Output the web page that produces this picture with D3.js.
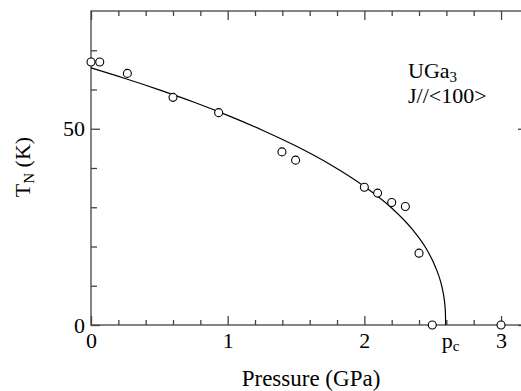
<!DOCTYPE html>
<html>
<head>
<meta charset="utf-8">
<script src="https://cdn.jsdelivr.net/npm/d3@7"></script>
<style>
  body { margin: 0; background: #fff; }
  svg { display: block; }
  .axis path, .axis line { stroke: #444; stroke-width: 1.3; }
  .axis text, .lbl { font-family: "Liberation Serif", "Times New Roman", Times, "DejaVu Serif", serif; font-size: 22px; fill: #000; }
</style>
</head>
<body>
<svg id="chart"></svg>
<script>
// measured points: pressure (GPa) and Neel temperature (K)
var pointP = [0, 0.064, 0.266, 0.60, 0.934, 1.397, 1.497, 2.0, 2.097, 2.20, 2.30, 2.40, 2.497, 3.0];
var pointT = [67.0, 67.0, 64.1, 58.0, 54.1, 44.1, 42.0, 35.1, 33.6, 31.2, 30.2, 18.3, 0, 0];

// solid line
var lineP = [0, 0.25, 0.5, 0.75, 1.0, 1.25, 1.5, 1.75, 2.0, 2.2, 2.35, 2.45, 2.52, 2.56, 2.58, 2.585, 2.59, 2.593, 2.595];
var lineT = [65.5, 62.8, 59.9, 56.8, 53.4, 49.7, 45.6, 40.9, 35.3, 29.8, 24.4, 19.6, 14.8, 10.8, 7.6, 6.4, 4.8, 3.2, 0];

var xMajor = [0, 1, 2, 3],
    yMajor = [0, 50],
    pc = 2.595;

var W = 521, H = 391,
    mLeft = 91, mRight = 527, mTop = 11, mBottom = 325,
    serif = '"Liberation Serif", "Times New Roman", Times, serif';

var svg = d3.select("#chart").attr("width", W).attr("height", H);

var x = d3.scaleLinear().domain([0, 3.19]).range([mLeft, mRight]);
var y = d3.scaleLinear().domain([0, 80]).range([mBottom, mTop]);

var xMinor = d3.range(0, 3.2, 0.2).filter(function (v) { return Math.abs(v - Math.round(v)) > 1e-6; });
var yMinor = d3.range(10, 80, 10).filter(function (v) { return v !== 50; });

// minor + major ticks on all four sides, pointing inward
function addAxis(maker, scale, transform, vals, size, labels, pad) {
    var ax = maker(scale).tickValues(vals).tickSize(size).tickSizeOuter(0).tickPadding(pad || 3);
    ax.tickFormat(labels ? d3.format("d") : "");
    svg.append("g").attr("class", "axis").attr("transform", transform).call(ax)
        .attr("font-family", serif).attr("font-size", 22);
}

addAxis(d3.axisBottom, x, "translate(0," + mBottom + ")", xMinor, -5, false);
addAxis(d3.axisBottom, x, "translate(0," + mBottom + ")", xMajor, -9, true, 7);
addAxis(d3.axisTop, x, "translate(0," + mTop + ")", xMinor, -5, false);
addAxis(d3.axisTop, x, "translate(0," + mTop + ")", xMajor, -9, false);
addAxis(d3.axisLeft, y, "translate(" + mLeft + ",0)", yMinor, -6, false);
addAxis(d3.axisLeft, y, "translate(" + mLeft + ",0)", yMajor, -9, true, 6);
addAxis(d3.axisRight, y, "translate(" + mRight + ",0)", yMinor, -5, false);
addAxis(d3.axisRight, y, "translate(" + mRight + ",0)", yMajor, -9, false);

svg.selectAll(".axis .domain").remove();
svg.append("rect")
    .attr("x", mLeft).attr("y", mTop)
    .attr("width", mRight - mLeft).attr("height", mBottom - mTop)
    .attr("fill", "none").attr("stroke", "#444").attr("stroke-width", 1.3);

// p_c label on the bottom axis
var pcl = svg.append("text").attr("class", "lbl").attr("font-family", serif)
    .attr("x", x(pc) + 5).attr("y", 348)
    .attr("text-anchor", "middle");
pcl.append("tspan").text("p");
pcl.append("tspan").attr("font-size", "15px").attr("dy", 3).text("c");

// fitted curve
var line = d3.line()
    .x(function (d, i) { return x(lineP[i]); })
    .y(function (d, i) { return y(lineT[i]); })
    .curve(d3.curveMonotoneX);

svg.append("path")
    .attr("d", line(lineP))
    .attr("fill", "none")
    .attr("stroke", "#000")
    .attr("stroke-width", 1.2);

// data points
svg.selectAll(".pt").data(pointP).enter().append("circle")
    .attr("class", "pt")
    .attr("cx", function (d) { return x(d); })
    .attr("cy", function (d, i) { return y(pointT[i]); })
    .attr("r", 4)
    .attr("fill", "#fff")
    .attr("stroke", "#000")
    .attr("stroke-width", 1.1);

// annotation
var ann = svg.append("text").attr("class", "lbl").attr("font-family", serif)
    .attr("x", 408).attr("y", 78);
ann.append("tspan").text("UGa");
ann.append("tspan").attr("font-size", "15px").attr("dy", 4).text("3");
svg.append("text").attr("class", "lbl").attr("font-family", serif)
    .attr("x", 408).attr("y", 103)
    .text("J//<100>");

// axis titles
svg.append("text").attr("class", "lbl").attr("font-family", serif)
    .attr("x", 311).attr("y", 386)
    .attr("text-anchor", "middle")
    .style("font-size", "23px")
    .text("Pressure (GPa)");

var yt = svg.append("text").attr("class", "lbl").attr("font-family", serif)
    .attr("transform", "translate(30,167) rotate(-90)")
    .attr("text-anchor", "middle");
yt.append("tspan").text("T");
yt.append("tspan").attr("font-size", "15px").attr("dy", 4).text("N");
yt.append("tspan").attr("dy", -4).text(" (K)");
</script>
</body>
</html>
